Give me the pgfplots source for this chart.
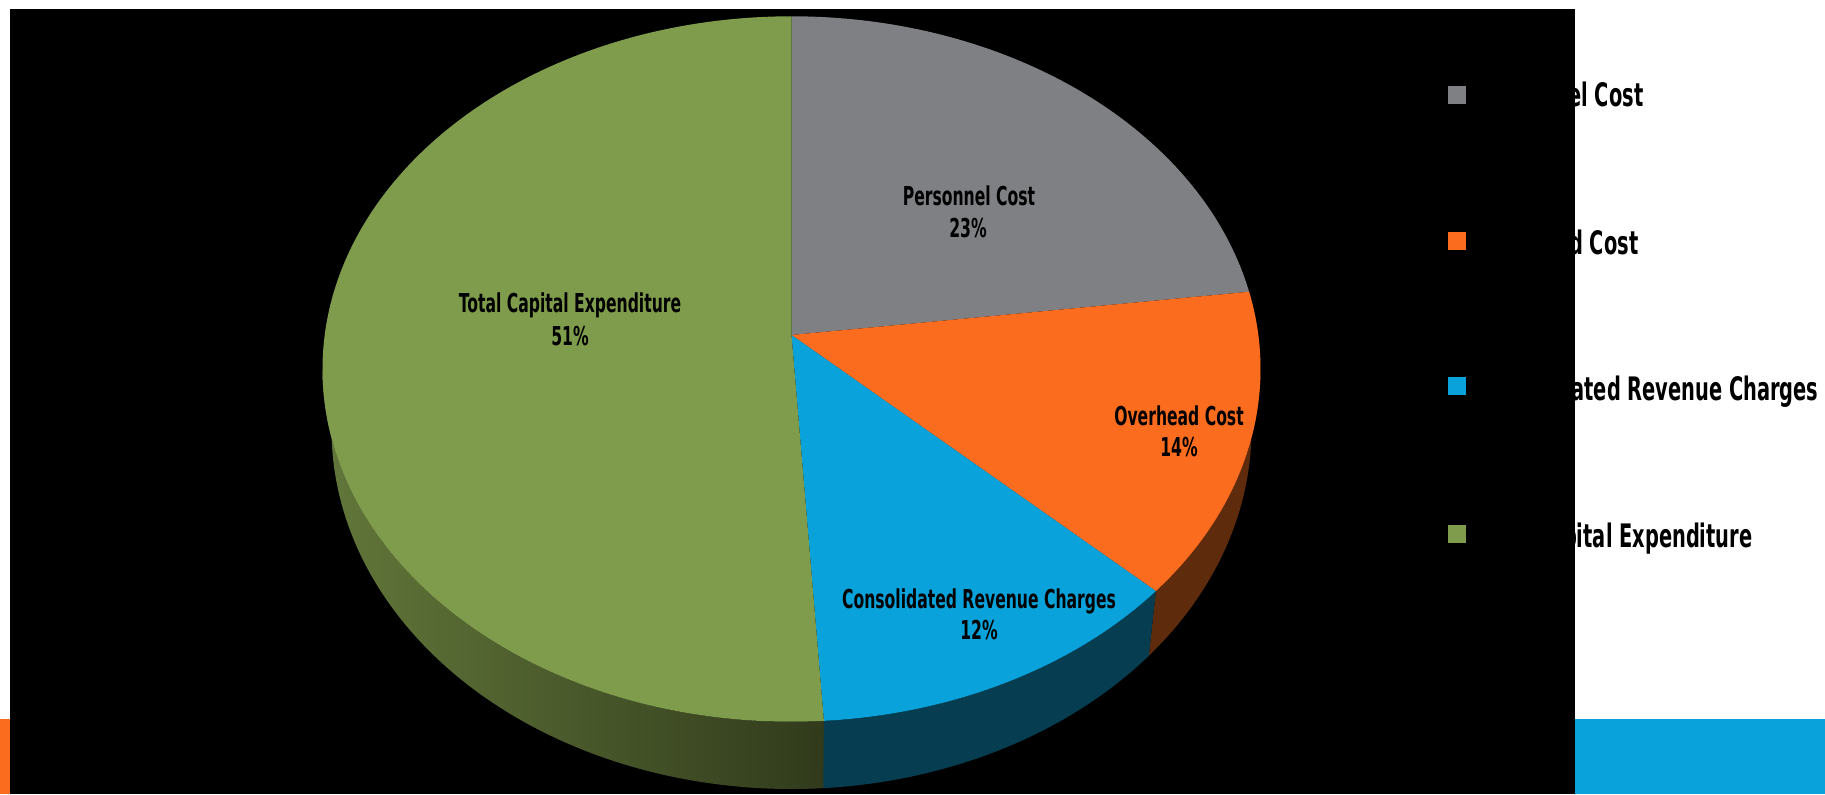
\documentclass[border=0pt]{standalone}
\usepackage{pgfplots}
\pgfplotsset{compat=1.18}
\usepackage{pgfplotstable}
\usepackage{fontspec}
\setmainfont{DejaVu Sans}[FakeStretch=0.6]

\definecolor{cgray}{HTML}{7F8084}
\definecolor{corange}{HTML}{FC6C1E}
\definecolor{cblue}{HTML}{0AA2DA}
\definecolor{cgreen}{HTML}{7F9B4C}
\definecolor{sorange}{HTML}{5E2B0C}
\definecolor{sblue}{HTML}{063D51}
\definecolor{sgreenL}{HTML}{62773A}
\definecolor{sgreenR}{HTML}{313B1C}
\definecolor{stripblue}{HTML}{0AA2DA}
\definecolor{striporange}{HTML}{FC6C1E}

\pgfplotstableread[col sep=comma]{
label,value
Personnel Cost,23
Overhead Cost,14
Consolidated Revenue Charges,12
Total Capital Expenditure,51
}\piedata

% geometry of the projected pie (pixel units, y downwards)
\def\cx{791.5}\def\cy{335}
\def\ex{791.5}\def\ey{369}\def\rx{469}\def\ry{352.7}
\def\eyb{429}\def\rxb{460}\def\ryb{360}
\def\kk{0.0964}
\def\un{0.3}

\newcommand\phiof[2]{%
  \pgfmathsetmacro\tts{sin(#1)}%
  \pgfmathsetmacro\ttc{cos(#1)}%
  \pgfmathsetmacro\ttden{1+\kk*\tts}%
  \pgfmathsetmacro\ttv{(1-\kk*\kk)*\tts/\ttden+\kk}%
  \pgfmathsetmacro\ttu{sqrt(1-\kk*\kk)*\ttc/\ttden}%
  \pgfmathsetmacro\ttraw{atan2(\ttv,\ttu)}%
  \pgfmathsetmacro#2{\ttraw+360*round((#1-\ttraw)/360)}}
\newcommand\toppt[3]{%
  \pgfmathsetmacro#2{\ex+\rx*cos(#1)}%
  \pgfmathsetmacro#3{\ey-\ry*sin(#1)}}
\newcommand\botpt[3]{%
  \pgfmathsetmacro#2{\ex+\rxb*cos(#1)}%
  \pgfmathsetmacro#3{\eyb-\ryb*sin(#1)}}

\begin{document}
\begin{tikzpicture}
\pgfplotstablegetelem{0}{value}\of\piedata \pgfmathsetmacro\tA{90-3.6*\pgfplotsretval}
\pgfplotstablegetelem{1}{value}\of\piedata \pgfmathsetmacro\tB{\tA-3.6*\pgfplotsretval}
\pgfplotstablegetelem{2}{value}\of\piedata \pgfmathsetmacro\tC{\tB-3.6*\pgfplotsretval}
\pgfplotstablegetelem{3}{value}\of\piedata \pgfmathsetmacro\tD{\tC-3.6*\pgfplotsretval}
\phiof{90}{\pZ}\phiof{\tA}{\pA}\phiof{\tB}{\pB}\phiof{\tC}{\pC}\phiof{\tD}{\pD}
\toppt{\pZ}{\xZ}{\yZ}\toppt{\pA}{\xA}{\yA}\toppt{\pB}{\xB}{\yB}\toppt{\pC}{\xC}{\yC}
\toppt{-180}{\xL}{\yL}
\botpt{\pA}{\bxA}{\byA}\botpt{\pB}{\bxB}{\byB}\botpt{\pC}{\bxC}{\byC}\botpt{-180}{\bxL}{\byL}
\pgfmathsetmacro\rxc{\rx*\un}\pgfmathsetmacro\ryc{\ry*\un}
\pgfmathsetmacro\rxbc{\rxb*\un}\pgfmathsetmacro\rybc{\ryb*\un}
\begin{axis}[
  x=\un pt, y=\un pt, y dir=reverse,
  xmin=0, xmax=1825, ymin=0, ymax=794,
  enlargelimits=false, hide axis, clip=false,
]
% background
\fill[white] (axis cs:0,0) rectangle (axis cs:1825,794);
\fill[striporange] (axis cs:0,719) rectangle (axis cs:10,794);
\fill[stripblue] (axis cs:1574,719) rectangle (axis cs:1825,794);
\fill[black] (axis cs:10,9) rectangle (axis cs:1575,794);
% side walls
\fill[left color=sgreenL, right color=sgreenR]
  (axis cs:\xC,\yC) arc[start angle=\pC, end angle=-180, x radius=\rxc pt, y radius=\ryc pt]
  -- (axis cs:\bxL,\byL) arc[start angle=-180, end angle=\pC, x radius=\rxbc pt, y radius=\rybc pt] -- cycle;
\fill[sorange]
  (axis cs:\xA,\yA) arc[start angle=\pA, end angle=\pB, x radius=\rxc pt, y radius=\ryc pt]
  -- (axis cs:\bxB,\byB) arc[start angle=\pB, end angle=\pA, x radius=\rxbc pt, y radius=\rybc pt] -- cycle;
\fill[sblue]
  (axis cs:\xB,\yB) arc[start angle=\pB, end angle=\pC, x radius=\rxc pt, y radius=\ryc pt]
  -- (axis cs:\bxC,\byC) arc[start angle=\pC, end angle=\pB, x radius=\rxbc pt, y radius=\rybc pt] -- cycle;
% top faces
\fill[cgray] (axis cs:\cx,\cy) -- (axis cs:\xZ,\yZ) arc[start angle=\pZ, end angle=\pA, x radius=\rxc pt, y radius=\ryc pt] -- cycle;
\fill[corange] (axis cs:\cx,\cy) -- (axis cs:\xA,\yA) arc[start angle=\pA, end angle=\pB, x radius=\rxc pt, y radius=\ryc pt] -- cycle;
\fill[cblue] (axis cs:\cx,\cy) -- (axis cs:\xB,\yB) arc[start angle=\pB, end angle=\pC, x radius=\rxc pt, y radius=\ryc pt] -- cycle;
\fill[cgreen] (axis cs:\cx,\cy) -- (axis cs:\xC,\yC) arc[start angle=\pC, end angle=\pD, x radius=\rxc pt, y radius=\ryc pt] -- cycle;
% data labels
\begin{scope}[every node/.style={inner sep=0pt, anchor=base, font=\fontsize{7.8pt}{9pt}\selectfont\bfseries, text=black}]
\node at (axis cs:969,205) {Personnel Cost};
\node at (axis cs:968,237) {23\%};
\node at (axis cs:1179,425) {Overhead Cost};
\node at (axis cs:1179,456) {14\%};
\node at (axis cs:979,608) {Consolidated Revenue Charges};
\node at (axis cs:979,639) {12\%};
\node at (axis cs:570,312) {Total Capital Expenditure};
\node at (axis cs:570,345) {51\%};
\end{scope}
% legend
\fill[cgray] (axis cs:1448,86) rectangle (axis cs:1466,104);
\fill[corange] (axis cs:1448,232) rectangle (axis cs:1466,250);
\fill[cblue] (axis cs:1448,377) rectangle (axis cs:1466,395);
\fill[cgreen] (axis cs:1448,525) rectangle (axis cs:1466,543);
\begin{scope}[every node/.style={inner sep=0pt, anchor=base east, font=\fontsize{9.7pt}{11pt}\selectfont\bfseries, text=black}]
\node at (axis cs:1644,107) {Personnel Cost};
\node at (axis cs:1639,254) {Overhead Cost};
\node at (axis cs:1819,400) {Consolidated Revenue Charges};
\node at (axis cs:1753,547) {Total Capital Expenditure};
\end{scope}
\end{axis}
\end{tikzpicture}
\end{document}
